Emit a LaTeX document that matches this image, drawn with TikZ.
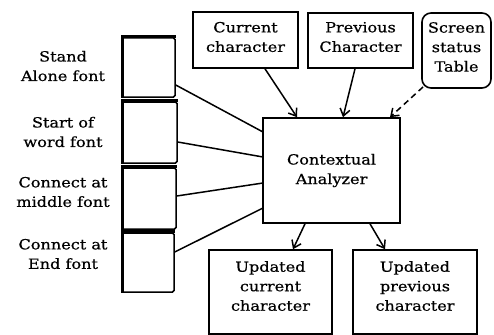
\documentclass[tikz,border=0pt]{standalone}
\usepackage{fontspec}
\setmainfont[FakeStretch=1.15,FakeBold=0.6]{DejaVu Serif}
\usetikzlibrary{arrows.meta}
\begin{document}
\begin{tikzpicture}[x=1pt,y=-1pt,
  box/.style={draw,line width=1.6pt,inner sep=0pt},
  fontbox/.style={draw,line width=1.5pt,inner sep=0pt,rounded corners=1.5pt},
  thickedge/.style={line width=2.6pt},
  lbl/.style={align=center,inner sep=0pt,font=\fontsize{14}{19.5}\selectfont},
  conn/.style={line width=1.5pt},
  arr/.style={line width=1.5pt,-{Straight Barb[length=7pt,width=10pt,line width=1.5pt]}}]
\useasboundingbox (0,0) rectangle (494,334);
% font boxes
\node[fontbox,minimum width=53pt,minimum height=59pt] (f1) at (148.5,67.5) {};
\node[fontbox,minimum width=55pt,minimum height=61pt] (f2) at (149.5,132.5) {};
\node[fontbox,minimum width=54pt,minimum height=61pt] (f3) at (149,198.5) {};
\node[fontbox,minimum width=52pt,minimum height=59pt] (f4) at (148,262.5) {};
\foreach \f in {f1,f2,f3,f4}
  \draw[thickedge] ([xshift=1pt]\f.south west) -- ([shift={(1pt,1pt)}]\f.north west) -- ([yshift=1pt]\f.north east);
% labels
\node[lbl] (l1) at (63,66) {Stand\\Alone font};
\node[lbl] (l2) at (63,132) {Start of\\word font};
\node[lbl] (l3) at (63,192) {Connect at\\middle font};
\node[lbl] (l4) at (63,254) {Connect at\\End font};
% top boxes
\node[box,minimum width=105pt,minimum height=56pt] (cur) at (245.5,40) {};
\node[lbl] (curt) at (245.5,37) {Current\\character};
\node[box,minimum width=105pt,minimum height=55pt] (prev) at (360.5,40.5) {};
\node[lbl] (prevt) at (360.5,37) {Previous\\Character};
\node[box,rounded corners=9pt,minimum width=69pt,minimum height=75pt] (scr) at (456.5,50.5) {};
\node[lbl] (scrt) at (456.5,47) {Screen\\status\\Table};
% analyzer
\node[box,lbl,minimum width=137pt,minimum height=105pt] (ca) at (331.5,170.5) {Contextual\\Analyzer};
% bottom boxes
\node[box,minimum width=123pt,minimum height=84pt] (uc) at (270.5,292) {};
\node[lbl] (uct) at (270.5,286) {Updated\\current\\character};
\node[box,minimum width=124pt,minimum height=84pt] (up) at (415,292) {};
\node[lbl] (upt) at (415,286) {Updated\\previous\\character};
% connectors from font boxes
\coordinate (c1) at (263,132);
\coordinate (c2) at (263,157);
\coordinate (c3) at (263,183);
\coordinate (c4) at (263,208);
\draw[conn] (f1.east |- 0,85) -- (c1);
\draw[conn] (f2.east |- 0,142) -- (c2);
\draw[conn] (f3.east |- 0,196) -- (c3);
\draw[conn] (f4.east |- 0,252) -- (c4);
% arrows
\draw[arr] (cur.south -| 265,0) -- (ca.north -| 297,0);
\draw[arr] (prev.south -| 355,0) -- (ca.north -| 343,0);
\draw[arr,dash pattern=on 6pt off 4pt] (423,87) -- (ca.north -| 390,0);
\draw[arr] (ca.south -| 305,0) -- (uc.north -| 293,0);
\draw[arr] (ca.south -| 370,0) -- (up.north -| 385,0);
\end{tikzpicture}
\end{document}
